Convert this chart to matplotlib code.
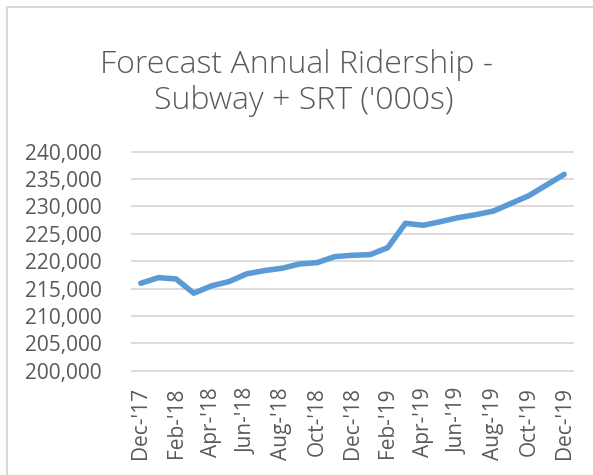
import matplotlib
matplotlib.use("Agg")
import matplotlib.pyplot as plt
from matplotlib.lines import Line2D

months = ["Dec-'17", "Jan-'18", "Feb-'18", "Mar-'18", "Apr-'18", "May-'18", "Jun-'18",
          "Jul-'18", "Aug-'18", "Sep-'18", "Oct-'18", "Nov-'18", "Dec-'18",
          "Jan-'19", "Feb-'19", "Mar-'19", "Apr-'19", "May-'19", "Jun-'19",
          "Jul-'19", "Aug-'19", "Sep-'19", "Oct-'19", "Nov-'19", "Dec-'19"]
ridership = [215970, 217000, 216760, 214150, 215490, 216280, 217680,
             218280, 218710, 219500, 219740, 220840, 221080,
             221200, 222480, 226920, 226560, 227230, 227960,
             228500, 229170, 230570, 231970, 233920, 235860]
yticks = list(range(200000, 240001, 5000))

plt.rcParams['font.family'] = ['Open Sans', 'DejaVu Sans']
grey = '#595959'

fig = plt.figure(figsize=(5.93, 4.75), dpi=100)
ax = fig.add_axes([132/593, 1 - 370.7/475, 441/593, 219/475])

x = list(range(len(months)))
ax.plot(x, ridership, color='#5B9BD5', linewidth=4, solid_capstyle='round',
        solid_joinstyle='round', zorder=3)

ax.set_xlim(-0.5, len(months) - 0.5)
ax.set_ylim(200000, 240000)
ax.set_yticks(yticks)
ax.set_yticklabels([f"{v:,}" for v in yticks])
ax.set_xticks(x[::2])
ax.set_xticklabels(months[::2], rotation=90)
ax.tick_params(length=0, labelsize=15, colors=grey)
ax.tick_params(axis='y', pad=22)
ax.tick_params(axis='x', pad=12)
for s in ax.spines.values():
    s.set_visible(False)
ax.yaxis.grid(True, color='#D9D9D9', linewidth=1.3)
for gl in ax.get_ygridlines():
    gl.set_clip_on(False)
ax.set_axisbelow(True)

# title, two centred lines
fig.text(297/593, 1 - 73/475, "Forecast Annual Ridership -", ha='center',
         va='baseline', fontsize=23, fontweight='light', color=grey)
fig.text(304/593, 1 - 109/475, "Subway + SRT ('000s)", ha='center',
         va='baseline', fontsize=23, fontweight='light', color=grey)

# chart area border (top and left visible)
fig.add_artist(Line2D([7/593, 7/593], [0, 1 - 7/475], color='#D9D9D9',
                      linewidth=1.5, transform=fig.transFigure))
fig.add_artist(Line2D([7/593, 1], [1 - 7/475, 1 - 7/475], color='#D9D9D9',
                      linewidth=1.5, transform=fig.transFigure))

fig.savefig('out.png', dpi=100)
